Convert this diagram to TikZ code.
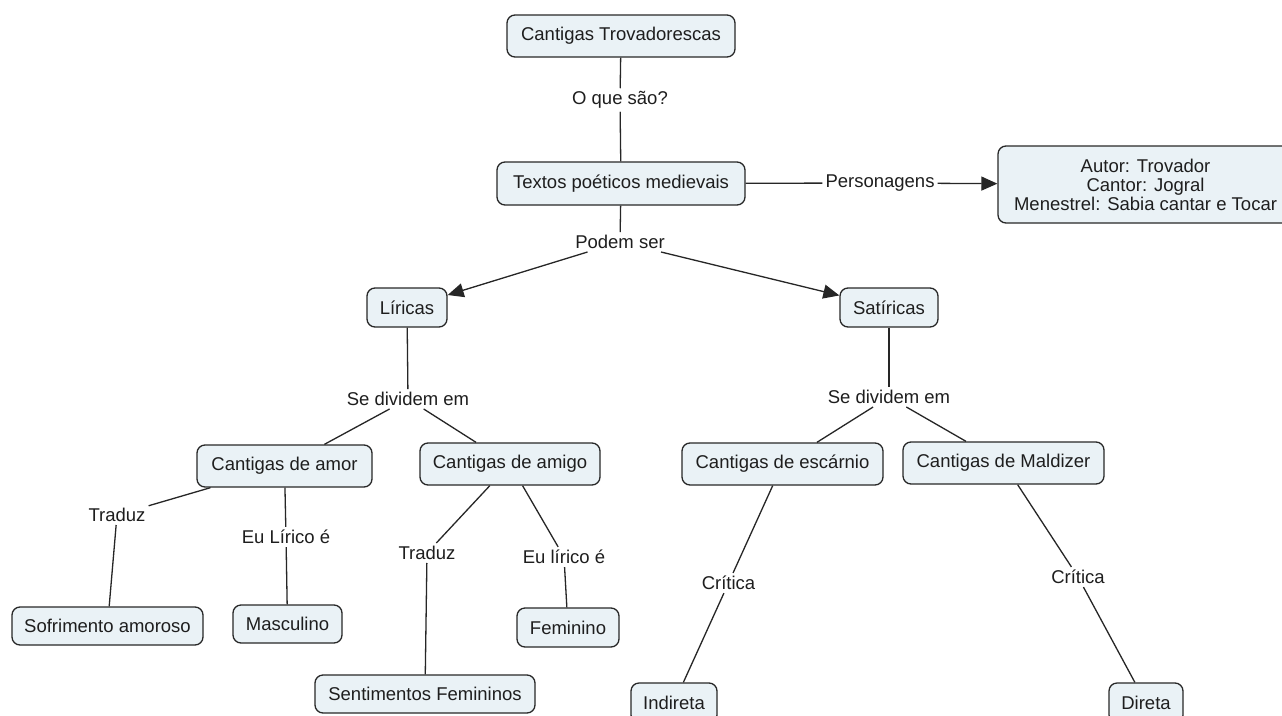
\documentclass[tikz,border=0pt]{standalone}
\usepackage{fontspec}
\setmainfont{Liberation Sans}
\usetikzlibrary{arrows.meta}
\definecolor{boxfill}{RGB}{234,242,246}
\definecolor{boxline}{RGB}{40,40,40}
\definecolor{ink}{RGB}{30,30,30}
\begin{document}
\begin{tikzpicture}[x=1pt,y=-1pt,
  concept/.style={draw=boxline, fill=boxfill, line width=1.3pt, rounded corners=8pt,
    inner sep=0pt, text=ink, font=\fontsize{18.5}{19}\selectfont, align=center},
  phrase/.style={inner sep=3pt, text=ink, font=\fontsize{18.5}{19}\selectfont},
  link/.style={draw=black!85, line width=1.3pt},
  arrow/.style={link, -{Triangle[length=16pt,width=14pt]}}
]
\useasboundingbox (0,0) rectangle (1282,715);
\clip (0,0) rectangle (1282,715);
\fill[white] (0,0) rectangle (1282,715);

% concepts
\node[concept, minimum width=228, minimum height=42] (trov) at (621,36) {Cantigas Trovadorescas};
\node[concept, minimum width=248, minimum height=43] (textos) at (621,183.5) {Textos poéticos medievais};
\node[concept, minimum width=295, minimum height=77] (pers) at (1145.5,184.5)
  {Autor: Trovador\\Cantor: Jogral\\Menestrel: Sabia cantar e Tocar};
\node[concept, minimum width=80, minimum height=39] (lir) at (407,307.5) {Líricas};
\node[concept, minimum width=98, minimum height=39] (sat) at (889,307.5) {Satíricas};
\node[concept, minimum width=175, minimum height=42] (amor) at (284.5,466) {Cantigas de amor};
\node[concept, minimum width=180, minimum height=42] (amigo) at (510,464) {Cantigas de amigo};
\node[concept, minimum width=201, minimum height=42] (escarnio) at (782.5,464) {Cantigas de escárnio};
\node[concept, minimum width=201, minimum height=42] (maldizer) at (1003.5,463) {Cantigas de Maldizer};
\node[concept, minimum width=191, minimum height=38] (sofr) at (107.5,626) {Sofrimento amoroso};
\node[concept, minimum width=109, minimum height=38] (masc) at (287.5,624) {Masculino};
\node[concept, minimum width=102, minimum height=39] (fem) at (568,627.5) {Feminino};
\node[concept, minimum width=220, minimum height=38] (sent) at (425,694) {Sentimentos Femininos};
\node[concept, minimum width=86, minimum height=40] (indir) at (674,703) {Indireta};
\node[concept, minimum width=74, minimum height=40] (direta) at (1146,703) {Direta};

% linking phrases
\node[phrase] (oque) at (620,100) {O que são?};
\node[phrase] (podem) at (620,242) {Podem ser};
\node[phrase] (persl) at (880,183) {Personagens};
\node[phrase] (sedivL) at (408,399) {Se dividem em};
\node[phrase] (sedivR) at (889,397) {Se dividem em};
\node[phrase] (trad1) at (117,515) {Traduz};
\node[phrase] (eul1) at (286,537) {Eu Lírico é};
\node[phrase] (trad2) at (427,553) {Traduz};
\node[phrase] (eul2) at (564,557) {Eu lírico é};
\node[phrase] (crit1) at (728.5,583) {Crítica};
\node[phrase] (crit2) at (1078,577) {Crítica};

% connectors
\draw[link] (trov) -- (oque);
\draw[link] (oque) -- (textos);
\draw[link] (textos) -- (persl);
\draw[arrow] (persl) -- (pers);
\draw[link] (textos) -- (podem);
\draw[arrow] (podem) -- (lir);
\draw[arrow] (podem) -- (sat);

\draw[link] (lir) -- (sedivL);
\draw[link] (sedivL) -- (amor);
\draw[link] (sedivL) -- (amigo);
\draw[link] (sat) -- (sedivR);
\draw[link] (sedivR) -- (escarnio);
\draw[link] (sedivR) -- (maldizer);

\draw[link] (amor) -- (trad1);
\draw[link] (trad1) -- (sofr);
\draw[link] (amor) -- (eul1);
\draw[link] (eul1) -- (masc);
\draw[link] (amigo) -- (trad2);
\draw[link] (trad2) -- (sent);
\draw[link] (amigo) -- (eul2);
\draw[link] (eul2) -- (fem);

\draw[link] (escarnio) -- (crit1);
\draw[link] (crit1) -- (indir);
\draw[link] (maldizer) -- (crit2);
\draw[link] (crit2) -- (direta);
\end{tikzpicture}
\end{document}
